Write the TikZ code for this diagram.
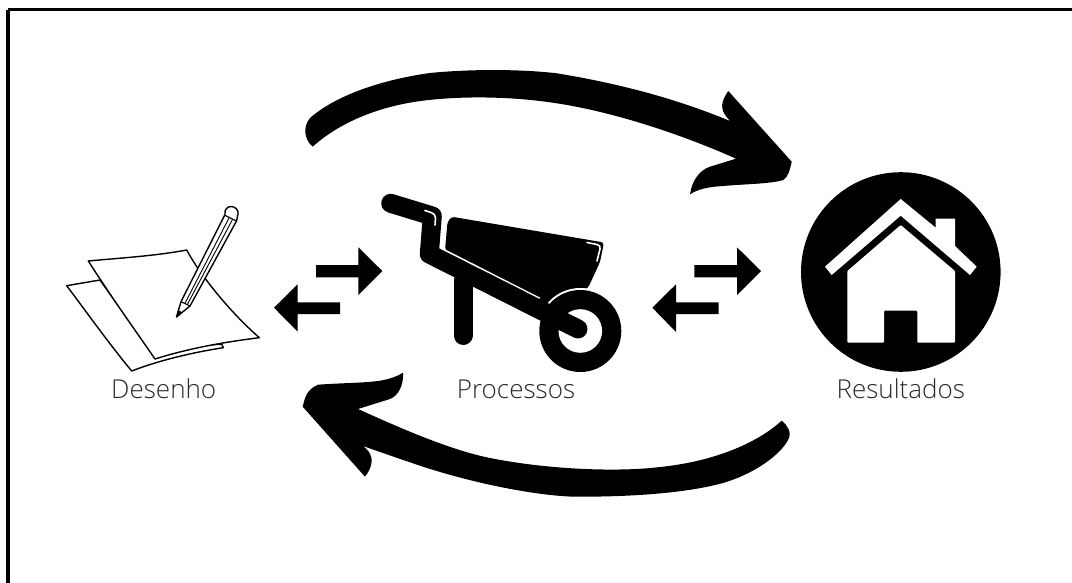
\documentclass[tikz,border=0pt]{standalone}
\usepackage{fontspec}
\setmainfont{Open Sans Light}
\definecolor{labelgrey}{HTML}{2A2A2A}
\tikzset{
  ink/.style={fill=black,draw=none},
  paper/.style={draw=black,fill=white,line width=1.4pt,line join=round},
  caption/.style={anchor=base,text=labelgrey,font=\fontsize{26}{30}\selectfont,inner sep=0pt},
  framebar/.style={line width=19pt,line cap=round,line join=round},
  shine/.style={draw=white,line width=1.6pt,line cap=round,line join=round},
}
\begin{document}
\begin{tikzpicture}[x=1pt,y=-1pt]
\useasboundingbox (0,0) rectangle (1072,583);
\fill[white] (0,0) rectangle (1072,583);
\draw[black,line width=3.2pt] (8,9.8) -- (1072,9.8);
\draw[black,line width=3.2pt] (8,9.8) -- (8,583);
% top sweep arrow
\fill[ink] (312.7,146.7) .. controls (305,140) and (302,128) .. (310,118)
  .. controls (335,96) and (380,80) .. (430,73)
  .. controls (470,69) and (520,69) .. (556.7,73.3)
  .. controls (610,82) and (670,96) .. (730,121)
  .. controls (722,112) and (718,106) .. (728.3,91)
  -- (791.7,161.7) .. controls (790,170) and (788,177) .. (783.3,180)
  .. controls (770,184) and (745,184) .. (723.3,186)
  .. controls (705,187) and (697,190) .. (690,194.3)
  .. controls (692,180) and (700,170) .. (710,166.7)
  -- (736,158.7)
  .. controls (690,138) and (620,113) .. (556.7,103.3)
  .. controls (510,96) and (460,96) .. (423,100.7)
  .. controls (380,106) and (340,122) .. (312.7,146.7) -- cycle;
% bottom sweep arrow
\fill[ink] (781.7,420.7) .. controls (788,426) and (791,432) .. (789.3,437)
  .. controls (785,450) and (760,472) .. (723,483)
  .. controls (690,492) and (640,497) .. (573,496.7)
  .. controls (530,495) and (470,482) .. (423,466.7)
  .. controls (400,459) and (380,452) .. (363,446)
  .. controls (372,453) and (376,462) .. (365,476.7)
  -- (302.7,406.7) .. controls (305,398) and (306,390) .. (318,384.7)
  .. controls (340,383) and (365,383) .. (380,380.7)
  .. controls (390,379) and (398,376) .. (403,372.7)
  .. controls (404,385) and (398,396) .. (390,399)
  -- (358,409)
  .. controls (400,428) and (450,450) .. (490,458)
  .. controls (550,470) and (620,472) .. (660,467)
  .. controls (710,462) and (755,445) .. (781.7,420.7) -- cycle;
% small arrows
\fill[ink] (316,265) -- (358.3,265) -- (358.3,247.3) -- (382.3,271) -- (358.3,295) -- (358.3,277.3) -- (316,277.3) -- cycle;
\fill[ink] (340,302.3) -- (297.7,302.3) -- (297.7,284.3) -- (274,307.7) -- (297.7,331.7) -- (297.7,314) -- (340,314) -- cycle;
\fill[ink] (694.3,265) -- (737,265) -- (737,247.3) -- (761,271) -- (737,295) -- (737,277.3) -- (694.3,277.3) -- cycle;
\fill[ink] (718.7,302.3) -- (676,302.3) -- (676,284.3) -- (652.3,307.7) -- (676,332) -- (676,314) -- (718.7,314) -- cycle;
% papers
\path[paper] (100,280) -- (66.7,285.7) .. controls (85,310) and (110,345) .. (131.7,371)
  .. controls (160,360) and (195,352) .. (223.3,347.7) -- (221.7,344) -- (150,350) -- cycle;
\path[paper] (88.3,261) .. controls (120,258) and (155,256) .. (186.7,250)
  .. controls (200,275) and (230,312) .. (259.3,337.7)
  .. controls (225,342) and (190,348) .. (155,359)
  .. controls (135,330) and (110,295) .. (88.3,261) -- cycle;
% pencil
\path[paper] (176.5,317) -- (181,301.7) -- (225,214.5)
  .. controls (224,209) and (228,206.5) .. (231,206.5)
  .. controls (235,206.5) and (239,210) .. (238,214)
  -- (236.5,221) -- (190,306) -- cycle;
\draw[black,line width=.9pt] (185,303.2) -- (229,218);
\draw[black,line width=.9pt] (187.5,304.2) -- (232.5,219.5);
\draw[black,line width=1.1pt] (225.3,215.5) -- (236.5,221);
\draw[black,line width=1.1pt] (181,301.7) -- (190,306);
\fill[black] (176.5,317) -- (178,310) -- (182.5,312.5) -- cycle;
% wheelbarrow
\fill[ink,rounded corners=3pt] (445,250) -- (447.5,222) -- (451.7,216.7) -- (604,242.5) -- (600,262) -- (588,288) -- (560,300) -- (548,304) -- cycle;
\draw[white,line width=22.5pt,line join=round] (432.3,216) -- (429.3,254) -- (535,307.7);
\draw[black,framebar] (463,280) -- (463,335.5);
\fill[white] (580.3,331) circle[radius=43];
\fill[black] (580.3,331) circle[radius=41];
\fill[white] (580.3,331) circle[radius=21.8];
\draw[black,framebar] (390.7,203.3) -- (432.3,216) -- (429.3,254) -- (578,329);
\path[shine] (425,210.5) -- (431,212.5) .. controls (434,213.5) and (435.5,215) .. (435.5,218) -- (435,225);
\path[shine] (587,242.5) -- (597,244.5) .. controls (600,245) and (600.5,247) .. (600,249) -- (597,261);
% house
\fill[black] (900.8,272) circle[radius=99.8];
\fill[white] (900.7,199) -- (935.7,227.7) -- (935.7,218.7) -- (955,218.7) -- (955,246) -- (976.7,266.7) -- (970,275) -- (900.7,215.7) -- (831.7,275) -- (825,266.7) -- cycle;
\fill[white,rounded corners=1pt] (900.7,225) -- (955,271) -- (955,342.7) -- (917.3,342.7) -- (917.3,310.7) -- (884,310.7) -- (884,342.7) -- (847.3,342.7) -- (847.3,271) -- cycle;
% labels
\node[caption] (desenho) at (163.7,398) {Desenho};
\node[caption] (processos) at (516,398) {Processos};
\node[caption] (resultados) at (900.8,398) {Resultados};
\end{tikzpicture}
\end{document}
